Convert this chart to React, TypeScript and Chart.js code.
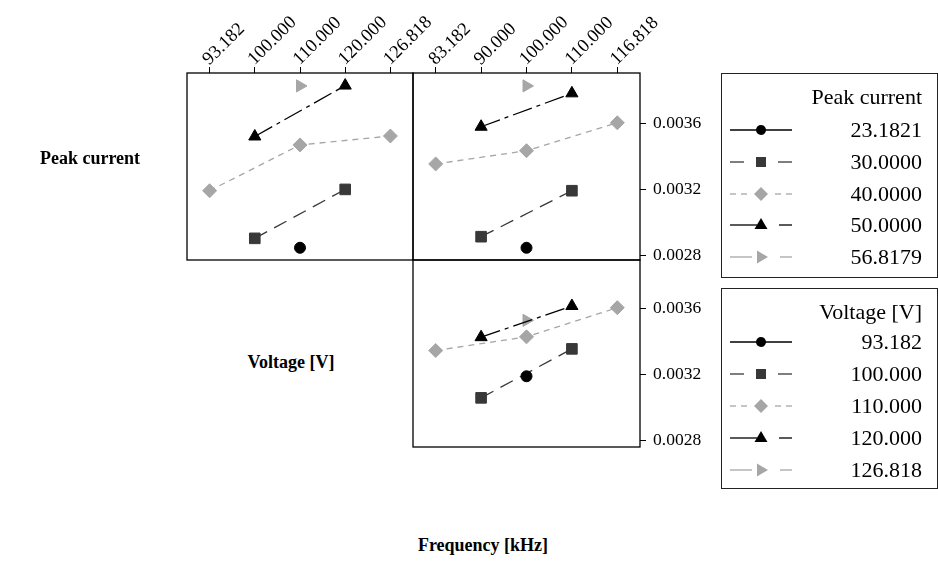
import React, { useEffect, useRef } from 'react';
import { Chart, registerables } from 'chart.js';

Chart.register(...registerables);

const FONT = "'Liberation Serif', 'Times New Roman', serif";

// Axis levels (categories)
const voltageLevels = ['93.182', '100.000', '110.000', '120.000', '126.818'];
const frequencyLevels = ['83.182', '90.000', '100.000', '110.000', '116.818'];

// Legend labels
const peakCurrentLevels = ['23.1821', '30.0000', '40.0000', '50.0000', '56.8179'];
const voltageTraceLevels = ['93.182', '100.000', '110.000', '120.000', '126.818'];

// Shared y ticks
const yTickValues = [0.0028, 0.0032, 0.0036];

// Top-left panel: Peak current traces vs Voltage
const pc23VsVoltage = [null, null, 0.002847, null, null];
const pc30VsVoltage = [null, 0.002904, null, 0.0032, null];
const pc40VsVoltage = [0.003192, null, 0.003469, null, 0.003523];
const pc50VsVoltage = [null, 0.00352, null, 0.003828, null];
const pc57VsVoltage = [null, null, 0.003826, null, null];

// Top-right panel: Peak current traces vs Frequency
const pc23VsFreq = [null, null, 0.002847, null, null];
const pc30VsFreq = [null, 0.002914, null, 0.003192, null];
const pc40VsFreq = [0.003354, null, 0.003434, null, 0.003603];
const pc50VsFreq = [null, 0.003579, null, 0.003781, null];
const pc57VsFreq = [null, null, 0.003826, null, null];

// Bottom-right panel: Voltage traces vs Frequency
const v93VsFreq = [null, null, 0.003188, null, null];
const v100VsFreq = [null, 0.003057, null, 0.003354, null];
const v110VsFreq = [0.003344, null, 0.003427, null, 0.003604];
const v120VsFreq = [null, 0.003425, null, 0.003614, null];
const v127VsFreq = [null, null, 0.003527, null, null];

const topRange = { min: 0.002773, max: 0.003904 };
const bottomRange = { min: 0.002759, max: 0.003893 };

const seriesStyles = [
  { color: '#000000', point: 'circle', radius: 5.5, rotation: 0, dash: [] as number[] },
  { color: '#383838', point: 'rect', radius: 7.5, rotation: 0, dash: [14, 8] },
  { color: '#a6a6a6', point: 'rectRot', radius: 7, rotation: 0, dash: [6, 5] },
  { color: '#000000', point: 'triangle', radius: 7, rotation: 0, dash: [20, 5, 4, 5] },
  { color: '#a6a6a6', point: 'triangle', radius: 7, rotation: 90, dash: [10, 6] },
];

const framePlugin = {
  id: 'frame',
  afterDraw(chart: any) {
    const { ctx, chartArea } = chart;
    const { left, top, right, bottom } = chartArea;
    ctx.save();
    ctx.strokeStyle = '#000';
    ctx.lineWidth = 1.3;
    ctx.strokeRect(left, top, right - left, bottom - top);
    ctx.restore();
  },
};

function buildDatasets(series: (number | null)[][]) {
  return series.map((data, i) => {
    const s = seriesStyles[i];
    return {
      data,
      borderColor: s.color,
      backgroundColor: s.color,
      borderWidth: 1.3,
      borderDash: s.dash,
      pointStyle: s.point,
      pointRadius: s.radius,
      pointRotation: s.rotation,
      pointBackgroundColor: s.color,
      pointBorderColor: s.color,
      pointBorderWidth: 1,
      spanGaps: true,
      tension: 0,
      clip: false as any,
    };
  });
}

type PanelOpts = {
  labels: string[];
  series: (number | null)[][];
  range: { min: number; max: number };
  showX: boolean;
  showY: boolean;
  padding: { left: number; right: number; top: number; bottom: number };
  yWidth?: number;
};

function makeConfig(o: PanelOpts): any {
  return {
    type: 'line',
    data: { labels: o.labels, datasets: buildDatasets(o.series) },
    plugins: [framePlugin],
    options: {
      animation: false,
      responsive: false,
      maintainAspectRatio: false,
      layout: { padding: o.padding },
      plugins: { legend: { display: false }, tooltip: { enabled: false } },
      scales: {
        x: {
          type: 'category',
          position: 'top',
          offset: true,
          display: o.showX,
          grid: {
            display: true,
            drawOnChartArea: false,
            drawTicks: true,
            tickLength: 6,
            color: '#000',
            lineWidth: 1,
            offset: false,
          },
          border: { display: false },
          ticks: {
            autoSkip: false,
            minRotation: 45,
            maxRotation: 45,
            padding: -3,
            labelOffset: 12,
            color: '#000',
            font: { family: FONT, size: 18.5 },
          },
          afterFit(scale: any) {
            if (o.showX) scale.height = 73;
            scale.paddingLeft = 0;
            scale.paddingRight = 0;
          },
        },
        y: {
          type: 'linear',
          position: 'right',
          display: o.showY,
          min: o.range.min,
          max: o.range.max,
          grid: {
            display: true,
            drawOnChartArea: false,
            drawTicks: true,
            tickLength: 6,
            color: '#000',
            lineWidth: 1,
          },
          border: { display: false },
          afterBuildTicks(scale: any) {
            scale.ticks = yTickValues.map((v) => ({ value: v }));
          },
          ticks: {
            padding: 7,
            color: '#000',
            font: { family: FONT, size: 17.5 },
            callback: (v: any) => Number(v).toFixed(4),
          },
          afterFit(scale: any) {
            if (o.yWidth) scale.width = o.yWidth;
            scale.paddingTop = 0;
            scale.paddingBottom = 0;
          },
        },
      },
    },
  };
}

function Panel(props: PanelOpts & { left: number; top: number; width: number; height: number }) {
  const ref = useRef<HTMLCanvasElement | null>(null);
  useEffect(() => {
    if (!ref.current) return;
    const chart = new Chart(ref.current, makeConfig(props));
    return () => chart.destroy();
  }, []);
  return (
    <canvas
      ref={ref}
      width={props.width}
      height={props.height}
      style={{
        position: 'absolute',
        left: props.left,
        top: props.top,
        width: props.width,
        height: props.height,
        display: 'block',
      }}
    />
  );
}

const legendRowsTop = [130, 162, 194, 225, 257];
const legendRowsBottom = [342, 374, 406, 438, 470];

function LegendSample({ y, idx }: { y: number; idx: number }) {
  const s = seriesStyles[idx];
  const cx = 761;
  const segs: [number, number][][] = [
    [[730, 792]],
    [[730, 744], [778, 792]],
    [[730, 736], [741, 747], [775, 781], [786, 792]],
    [[730, 757], [779, 792]],
    [[730, 752], [780, 792]],
  ];
  let marker: any = null;
  if (idx === 0) marker = <circle cx={cx} cy={y} r={5} fill={s.color} />;
  if (idx === 1) marker = <rect x={cx - 5} y={y - 5} width={10} height={10} fill={s.color} />;
  if (idx === 2)
    marker = <polygon points={`${cx},${y - 7} ${cx + 7},${y} ${cx},${y + 7} ${cx - 7},${y}`} fill={s.color} />;
  if (idx === 3)
    marker = <polygon points={`${cx},${y - 7} ${cx + 6.5},${y + 4} ${cx - 6.5},${y + 4}`} fill={s.color} />;
  if (idx === 4)
    marker = <polygon points={`${cx + 7},${y} ${cx - 4},${y - 6.5} ${cx - 4},${y + 6.5}`} fill={s.color} />;
  return (
    <g>
      {segs[idx].map(([a, b], k) => (
        <line key={k} x1={a} x2={b} y1={y} y2={y} stroke={s.color} strokeWidth={1.3} />
      ))}
      {marker}
    </g>
  );
}

function textStyle(x: number, y: number, size: number, bold: boolean, align: 'center' | 'right'): React.CSSProperties {
  const base: React.CSSProperties = {
    position: 'absolute',
    top: y - size * 0.6,
    fontFamily: FONT,
    fontSize: size,
    lineHeight: `${size * 1.2}px`,
    fontWeight: bold ? 'bold' : 'normal',
    color: '#000',
    whiteSpace: 'nowrap',
  };
  if (align === 'center') {
    return { ...base, left: x, transform: 'translateX(-50%)' };
  }
  return { ...base, right: 938 - x };
}

export default function App() {
  return (
    <div
      style={{
        position: 'absolute',
        left: 0,
        top: 0,
        width: 938,
        height: 565,
        background: '#fff',
        overflow: 'hidden',
      }}
    >
      {/* Top-left: Peak current vs Voltage */}
      <Panel
        left={140}
        top={0}
        width={310}
        height={270}
        labels={voltageLevels}
        series={[pc23VsVoltage, pc30VsVoltage, pc40VsVoltage, pc50VsVoltage, pc57VsVoltage]}
        range={topRange}
        showX={true}
        showY={false}
        padding={{ left: 47, right: 37, top: 0, bottom: 10 }}
      />
      {/* Top-right: Peak current vs Frequency */}
      <Panel
        left={380}
        top={0}
        width={336}
        height={270}
        labels={frequencyLevels}
        series={[pc23VsFreq, pc30VsFreq, pc40VsFreq, pc50VsFreq, pc57VsFreq]}
        range={topRange}
        showX={true}
        showY={true}
        yWidth={76}
        padding={{ left: 33, right: 0, top: 0, bottom: 10 }}
      />
      {/* Bottom-right: Voltage vs Frequency */}
      <Panel
        left={380}
        top={250}
        width={336}
        height={210}
        labels={frequencyLevels}
        series={[v93VsFreq, v100VsFreq, v110VsFreq, v120VsFreq, v127VsFreq]}
        range={bottomRange}
        showX={false}
        showY={true}
        yWidth={76}
        padding={{ left: 33, right: 0, top: 10, bottom: 13 }}
      />

      <div style={textStyle(90, 159, 18, true, 'center')}>Peak current</div>
      <div style={textStyle(291, 363, 18, true, 'center')}>Voltage [V]</div>
      <div style={textStyle(483, 546, 18, true, 'center')}>Frequency [kHz]</div>

      {/* Legend boxes */}
      <div
        style={{
          position: 'absolute',
          left: 721,
          top: 73,
          width: 215,
          height: 203,
          border: '1.3px solid #222',
        }}
      />
      <div
        style={{
          position: 'absolute',
          left: 721,
          top: 288,
          width: 215,
          height: 199,
          border: '1.3px solid #222',
        }}
      />
      <svg
        width={938}
        height={565}
        style={{ position: 'absolute', left: 0, top: 0, pointerEvents: 'none' }}
      >
        {legendRowsTop.map((y, i) => (
          <LegendSample key={'t' + i} y={y} idx={i} />
        ))}
        {legendRowsBottom.map((y, i) => (
          <LegendSample key={'b' + i} y={y} idx={i} />
        ))}
      </svg>
      <div style={textStyle(922, 97, 22, false, 'right')}>Peak current</div>
      {peakCurrentLevels.map((t, i) => (
        <div key={'pl' + i} style={textStyle(922, legendRowsTop[i], 22, false, 'right')}>
          {t}
        </div>
      ))}
      <div style={textStyle(922, 312, 22, false, 'right')}>Voltage [V]</div>
      {voltageTraceLevels.map((t, i) => (
        <div key={'vl' + i} style={textStyle(922, legendRowsBottom[i], 22, false, 'right')}>
          {t}
        </div>
      ))}
    </div>
  );
}
